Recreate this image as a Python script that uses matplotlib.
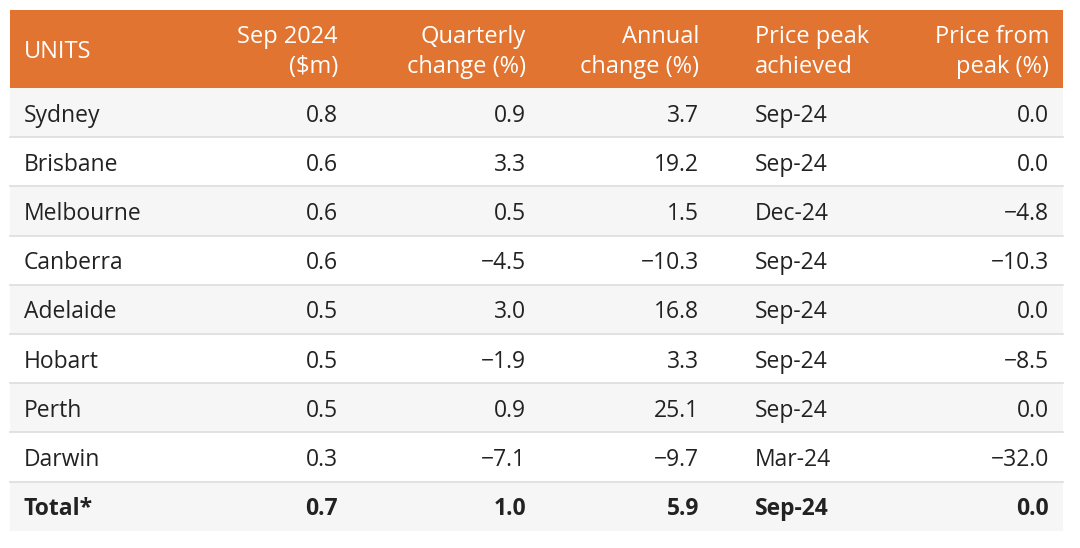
import matplotlib.pyplot as plt
from matplotlib.patches import Rectangle

plt.rcParams['font.family'] = ['Open Sans', 'DejaVu Sans']

headers = ['UNITS', 'Sep 2024\n($m)', 'Quarterly\nchange (%)', 'Annual\nchange (%)',
           'Price peak\nachieved', 'Price from\npeak (%)']
cities = ['Sydney', 'Brisbane', 'Melbourne', 'Canberra', 'Adelaide', 'Hobart',
          'Perth', 'Darwin', 'Total*']
price = ['0.8', '0.6', '0.6', '0.6', '0.5', '0.5', '0.5', '0.3', '0.7']
quarterly = ['0.9', '3.3', '0.5', '\u22124.5', '3.0', '\u22121.9', '0.9', '\u22127.1', '1.0']
annual = ['3.7', '19.2', '1.5', '\u221210.3', '16.8', '3.3', '25.1', '\u22129.7', '5.9']
peak = ['Sep-24', 'Sep-24', 'Dec-24', 'Sep-24', 'Sep-24', 'Sep-24', 'Sep-24', 'Mar-24', 'Sep-24']
from_peak = ['0.0', '0.0', '\u22124.8', '\u221210.3', '0.0', '\u22128.5', '0.0', '\u221232.0', '0.0']

# layout in pixels
W, H = 1080, 548
left, right = 10, 1063
head_top, head_bot = 10, 88
row_h = 49.2
col_x = [24, 338, 526, 699, 755, 1049]
col_ha = ['left', 'right', 'right', 'right', 'left', 'right']

orange = '#e07430'
text_col = '#222222'

fig = plt.figure(figsize=(W / 100, H / 100), dpi=100)
ax = fig.add_axes([0, 0, 1, 1])
ax.set_xlim(0, W)
ax.set_ylim(H, 0)
ax.axis('off')

ax.add_patch(Rectangle((left, head_top), right - left, head_bot - head_top,
                       facecolor=orange, edgecolor='none'))
for i, h in enumerate(headers):
    ax.text(col_x[i], (head_top + head_bot) / 2 + 3, h, ha=col_ha[i], va='center',
            color='white', fontsize=17, linespacing=1.33)

columns = [cities, price, quarterly, annual, peak, from_peak]
for r in range(len(cities)):
    y0 = head_bot + r * row_h
    face = '#f6f6f6' if r % 2 == 0 else 'white'
    ax.add_patch(Rectangle((left, y0), right - left, row_h, facecolor=face, edgecolor='none'))
    if r > 0:
        ax.plot([left, right], [y0, y0], color='#dddddd', lw=1.2)
    bold = r == len(cities) - 1
    for c, col in enumerate(columns):
        ax.text(col_x[c], y0 + row_h / 2 + 3, col[r], ha=col_ha[c], va='center',
                color=text_col, fontsize=16.5, fontweight='bold' if bold else 'normal')

fig.savefig('out.png', dpi=100, facecolor='white')
